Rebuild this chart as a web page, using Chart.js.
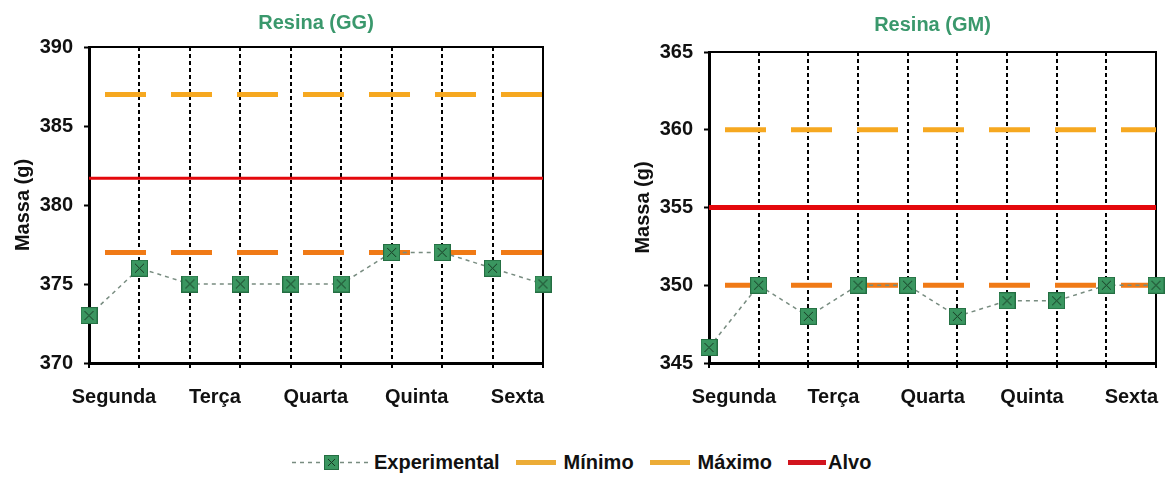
<!DOCTYPE html>
<html lang="pt">
<head>
<meta charset="utf-8">
<title>Resina (GG) / Resina (GM)</title>
<script src="https://cdn.jsdelivr.net/npm/chart.js@4.4.1/dist/chart.umd.min.js"></script>
<style>
  body { margin: 0; background: #fff; font-family: "Liberation Sans", Arial, sans-serif; }
  #wrap { position: relative; width: 1173px; height: 481px; overflow: hidden; }
  #chartGG { position: absolute; left: 0; top: 0; }
  #chartGM { position: absolute; left: 590px; top: 0; }
  #legenda { position: absolute; left: 292px; top: 450px; height: 24px; display: flex; align-items: center;
             font-weight: bold; font-size: 20px; color: #111; white-space: nowrap; }
  #legenda .linha { display: inline-block; width: 40px; height: 5px; margin: 0 8px 0 0; }
  #legenda .item { display: flex; align-items: center; margin-right: 16px; }
</style>
</head>
<body>
<div id="wrap">
  <canvas id="chartGG" width="590" height="437"></canvas>
  <canvas id="chartGM" width="583" height="437"></canvas>
  <div id="legenda">
    <div class="item"><canvas id="simboloExp" width="80" height="20" style="margin-right:2px"></canvas>Experimental</div>
    <div class="item"><span class="linha" style="background:rgb(236,172,55)"></span>Mínimo</div>
    <div class="item"><span class="linha" style="background:rgb(236,172,55)"></span>Máximo</div>
    <div class="item" style="margin-right:0"><span class="linha" style="background:rgb(210,20,30);width:38px;margin-right:2px"></span>Alvo</div>
  </div>
</div>
<script>
// ==================== DADOS ====================
const dias = ['Segunda', 'Terça', 'Quarta', 'Quinta', 'Sexta'];

// Resina (GG) - duas medições por dia
const expGG  = [373, 376, 375, 375, 375, 375, 377, 377, 376, 375];
const minGG  = [377, 377, 377, 377, 377, 377, 377, 377, 377, 377];
const maxGG  = [387, 387, 387, 387, 387, 387, 387, 387, 387, 387];
const alvoGG = [381.7, 381.7, 381.7, 381.7, 381.7, 381.7, 381.7, 381.7, 381.7, 381.7];
const ticksGG = [370, 375, 380, 385, 390];

// Resina (GM)
const expGM  = [346, 350, 348, 350, 350, 348, 349, 349, 350, 350];
const minGM  = [350, 350, 350, 350, 350, 350, 350, 350, 350, 350];
const maxGM  = [360, 360, 360, 360, 360, 360, 360, 360, 360, 360];
const alvoGM = [355, 355, 355, 355, 355, 355, 355, 355, 355, 355];
const ticksGM = [345, 350, 355, 360, 365];

// rótulo do dia só na primeira medição (deslocado para o meio do par)
const rotulos = dias.flatMap(d => [d, '']);

const COR_MIN = 'rgb(240,122,22)';
const COR_MAX = 'rgb(246,168,32)';
const COR_ALVO = 'rgb(228,8,12)';
const fonte = { family: '"Liberation Sans", Arial, sans-serif', size: 20, weight: 'bold' };

// Marcador quadrado verde com X
function marcador(size) {
    const c = document.createElement('canvas');
    c.width = size; c.height = size;
    const g = c.getContext('2d');
    g.fillStyle = 'rgb(58,150,96)';
    g.fillRect(0, 0, size, size);
    g.strokeStyle = 'rgb(36,110,66)';
    g.lineWidth = 1;
    g.strokeRect(0.5, 0.5, size - 1, size - 1);
    g.strokeStyle = 'rgb(22,55,34)';
    g.beginPath();
    g.moveTo(4, 4); g.lineTo(size - 4, size - 4);
    g.moveTo(size - 4, 4); g.lineTo(4, size - 4);
    g.stroke();
    return c;
}
const imgMarcador = marcador(17);

// Moldura superior e direita da área do gráfico
const moldura = {
    id: 'moldura',
    beforeDatasetsDraw(chart) {
        const { ctx, chartArea: a } = chart;
        ctx.save();
        ctx.strokeStyle = '#000';
        ctx.lineWidth = 2;
        ctx.beginPath();
        ctx.moveTo(a.left, a.top);
        ctx.lineTo(a.right, a.top);
        ctx.lineTo(a.right, a.bottom);
        ctx.stroke();
        ctx.restore();
    }
};

function linhaRef(label, data, cor, largura, tracejado) {
    return {
        label, data,
        borderColor: cor,
        backgroundColor: cor,
        borderWidth: largura,
        borderDash: tracejado ? [41, 25] : [],
        borderDashOffset: tracejado ? 50 : 0,
        borderCapStyle: 'butt',
        pointRadius: 0,
        pointHoverRadius: 0,
        fill: false,
        tension: 0
    };
}

function criarGrafico(id, titulo, exp, min, max, alvo, ticks, cfg) {
    const ctx = document.getElementById(id).getContext('2d');
    return new Chart(ctx, {
        type: 'line',
        data: {
            labels: rotulos,
            datasets: [
                {
                    label: 'Experimental',
                    data: exp,
                    borderColor: 'rgb(120,140,128)',
                    borderWidth: 1.5,
                    borderDash: [4, 4],
                    pointStyle: imgMarcador,
                    pointRadius: 9,
                    fill: false,
                    tension: 0,
                    clip: false
                },
                linhaRef('Mínimo', min, COR_MIN, 5, true),
                linhaRef('Máximo', max, COR_MAX, 5, true),
                linhaRef('Alvo', alvo, COR_ALVO, cfg.alvoLargura, false)
            ]
        },
        options: {
            responsive: false,
            animation: false,
            layout: { padding: cfg.padding },
            plugins: {
                legend: { display: false },
                tooltip: { enabled: false },
                title: {
                    display: true,
                    text: titulo,
                    fullSize: false,
                    color: 'rgb(58,152,108)',
                    font: { family: fonte.family, size: 20, weight: 'bold' },
                    padding: cfg.tituloPadding
                }
            },
            scales: {
                x: {
                    type: 'category',
                    offset: false,
                    grid: {
                        color: c => c.index === 0 ? 'rgba(0,0,0,0)' : '#000',
                        lineWidth: 2,
                        drawTicks: true,
                        tickLength: 5,
                        tickColor: '#000',
                        tickWidth: 2,
                        tickBorderDash: []
                    },
                    border: { display: true, color: '#000', width: 3, dash: [4, 3] },
                    ticks: {
                        autoSkip: false,
                        maxRotation: 0,
                        labelOffset: 25,
                        padding: 17,
                        color: '#111',
                        font: fonte
                    }
                },
                y: {
                    min: ticks[0],
                    max: ticks[ticks.length - 1],
                    afterBuildTicks: s => { s.ticks = ticks.map(v => ({ value: v })); },
                    afterFit: s => { s.width = 89; },
                    grid: {
                        drawOnChartArea: false,
                        drawTicks: true,
                        tickLength: 5,
                        tickColor: '#000',
                        tickWidth: 2
                    },
                    border: { display: true, color: '#000', width: 3 },
                    ticks: { padding: 11, color: '#111', font: fonte },
                    title: {
                        display: true,
                        text: 'Massa (g)',
                        color: '#111',
                        font: fonte,
                        padding: { top: 11, bottom: 0 }
                    }
                }
            }
        },
        plugins: [moldura]
    });
}

criarGrafico('chartGG', 'Resina (GG)', expGG, minGG, maxGG, alvoGG, ticksGG, {
    padding: { left: 0, right: 47, top: 0, bottom: 11 },
    tituloPadding: { top: 11, bottom: 12 },
    alvoLargura: 3
});

criarGrafico('chartGM', 'Resina (GM)', expGM, minGM, maxGM, alvoGM, ticksGM, {
    padding: { left: 30, right: 6, top: 0, bottom: 11 },
    tituloPadding: { top: 13, bottom: 15 },
    alvoLargura: 5
});

// Símbolo da legenda para a série experimental
(function () {
    const c = document.getElementById('simboloExp');
    const g = c.getContext('2d');
    g.strokeStyle = 'rgb(120,140,128)';
    g.lineWidth = 1.5;
    g.setLineDash([4, 4]);
    g.beginPath();
    g.moveTo(0, 10.5); g.lineTo(80, 10.5);
    g.stroke();
    g.drawImage(marcador(15), 32, 3);
})();
</script>
</body>
</html>
